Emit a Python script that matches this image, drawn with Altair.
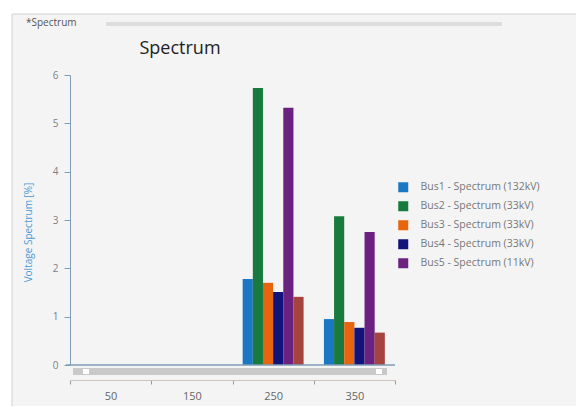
import altair as alt
import pandas as pd

# ---- data ----
harmonics = ["50", "150", "250", "350"]
buses = [
    "Bus1 - Spectrum (132kV)",
    "Bus2 - Spectrum (33kV)",
    "Bus3 - Spectrum (33kV)",
    "Bus4 - Spectrum (33kV)",
    "Bus5 - Spectrum (11kV)",
    "Bus6 - Spectrum (11kV)",
]
bus_colors = ["#1a78c2", "#197a3f", "#e8650f", "#11127a", "#6a2180", "#a6433f"]
values_250 = [1.78, 5.73, 1.70, 1.51, 5.32, 1.41]
values_350 = [0.95, 3.08, 0.89, 0.77, 2.75, 0.67]
y_ticks = [0, 1, 2, 3, 4, 5, 6]

rows = []
for b, v in zip(buses, values_250):
    rows.append({"harmonic": "250", "bus": b, "value": v})
for b, v in zip(buses, values_350):
    rows.append({"harmonic": "350", "bus": b, "value": v})
df = pd.DataFrame(rows)
one = pd.DataFrame({"k": [0]})

W, H = 325, 290
FONT = "Open Sans"

# ---- window chrome (pixel positions relative to plot origin) ----
window_bg = alt.Chart(one).mark_rect(fill="#f4f4f4", stroke="#d2d2d2", strokeWidth=1).encode(
    x=alt.value(-58), x2=alt.value(520), y=alt.value(-61), y2=alt.value(360)
)
tab_bar = alt.Chart(one).mark_rect(fill="#dddddd").encode(
    x=alt.value(36), x2=alt.value(432), y=alt.value(-53), y2=alt.value(-49)
)
tab_text = alt.Chart(one).mark_text(
    text="*Spectrum", align="left", baseline="middle", fontSize=10, color="#555555", font=FONT
).encode(x=alt.value(-44), y=alt.value(-52))
title = alt.Chart(one).mark_text(
    text="Spectrum", align="center", baseline="middle", fontSize=18, color="#222222", font=FONT
).encode(x=alt.value(110), y=alt.value(-26))

scroll = alt.Chart(one).mark_rect(fill="#c9c9c9").encode(
    x=alt.value(3), x2=alt.value(317), y=alt.value(293), y2=alt.value(300)
)
knob_l = alt.Chart(one).mark_rect(fill="#ffffff").encode(
    x=alt.value(13), x2=alt.value(19), y=alt.value(294), y2=alt.value(299)
)
knob_r = alt.Chart(one).mark_rect(fill="#ffffff").encode(
    x=alt.value(306), x2=alt.value(312), y=alt.value(294), y2=alt.value(299)
)

bars = alt.Chart(df).mark_bar().encode(
    x=alt.X(
        "harmonic:N",
        scale=alt.Scale(domain=harmonics, paddingInner=0, paddingOuter=0),
        axis=alt.Axis(
            title=None, labelAngle=0, tickBand="extent", offset=15, zindex=2,
            domainColor="#cfc3bd", tickColor="#999999", tickSize=4,
            labelColor="#666666", labelFontSize=11, labelPadding=6, labelFont=FONT,
        ),
    ),
    xOffset=alt.XOffset("bus:N", scale=alt.Scale(domain=buses, paddingOuter=1, paddingInner=0)),
    y=alt.Y(
        "value:Q",
        stack=None,
        scale=alt.Scale(domain=[0, 6], nice=False),
        axis=alt.Axis(
            title="Voltage Spectrum [%]", values=y_ticks, grid=False, zindex=2,
            domainColor="#7f9cb8", tickColor="#7f9cb8", tickSize=6,
            labelColor="#808080", labelFontSize=10, labelPadding=6, labelFont=FONT,
            titleColor="#4a9ad8", titleFontSize=10, titleFontWeight="normal", titleFont=FONT,
            titleX=-37, titleY=157,
        ),
    ),
    color=alt.Color(
        "bus:N",
        scale=alt.Scale(domain=buses, range=bus_colors),
        legend=alt.Legend(
            values=buses[:5], title=None, orient="none", legendX=328, legendY=107,
            symbolType="square", symbolSize=100, symbolStrokeWidth=0,
            labelFontSize=10.5, labelColor="#777777", labelFont=FONT,
            rowPadding=8, labelOffset=12, padding=0, labelLimit=300, zindex=2,
        ),
    ),
)

baseline = alt.Chart(one).mark_rule(color="#7f9cb8", strokeWidth=1.5).encode(
    x=alt.value(-4), x2=alt.value(W), y=alt.value(H)
)

chart = alt.layer(
    window_bg, tab_bar, tab_text, title, scroll, knob_l, knob_r, bars, baseline
).properties(
    width=W, height=H,
    autosize=alt.AutoSizeParams(type="none"),
    padding={"left": 62, "top": 67, "right": 181, "bottom": 41},
).configure_view(stroke=None).configure(background="#ffffff")

chart.save("out.html", embed_options={"renderer": "svg", "actions": False})
